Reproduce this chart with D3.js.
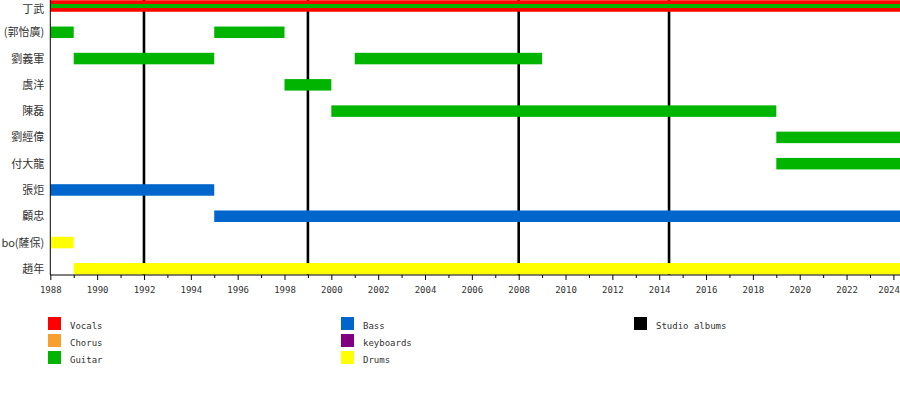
<!DOCTYPE html>
<html><head><meta charset="utf-8">
<script src="https://cdn.jsdelivr.net/npm/d3@7"></script>
<style>body{margin:0;background:#fff}svg{display:block}</style>
</head><body>
<svg id="c" width="900" height="400"></svg>
<script>
const members = ["丁武","(郭怡廣)","劉義軍","虞洋","陳磊","劉經偉","付大龍","張炬","顧忠","bo(薩保)","趙年"];
const roles = ["Vocals","Chorus","Guitar","Bass","keyboards","Drums","Studio albums"];
const roleColors = ["#ff0000","#f7a030","#00b400","#0066cc","#800080","#ffff00","#000000"];
// [member, role, start, end]
const periods = [
  ["丁武","Vocals",1988,2024.4],
  ["(郭怡廣)","Guitar",1988,1989],
  ["(郭怡廣)","Guitar",1995,1998],
  ["劉義軍","Guitar",1989,1995],
  ["劉義軍","Guitar",2001,2009],
  ["虞洋","Guitar",1998,2000],
  ["陳磊","Guitar",2000,2019],
  ["劉經偉","Guitar",2019,2024.4],
  ["付大龍","Guitar",2019,2024.4],
  ["張炬","Bass",1988,1995],
  ["顧忠","Bass",1995,2024.4],
  ["bo(薩保)","Drums",1988,1989],
  ["趙年","Drums",1989,2024.4]
];
// secondary role stripe
const stripes = [["丁武","Guitar",1988,2024.4]];
const albums = [1992, 1999, 2008, 2014.42];
const tickYears = d3.range(1988, 2025, 1);

const svg = d3.select("#c");
const x = d3.scaleLinear().domain([1988, 2024]).range([50.3, 893.4]);
const y = d3.scalePoint().domain(members).range([6, 268.8]);
const color = d3.scaleOrdinal().domain(roles).range(roleColors);
const axisY = 275;
const barH = 11.5;

// album lines
svg.append("g").selectAll("line").data(albums).join("line")
  .attr("x1", d => x(d)).attr("x2", d => x(d))
  .attr("y1", 0).attr("y2", axisY)
  .attr("stroke", "#000").attr("stroke-width", 2.6);

// bars
svg.append("g").selectAll("rect").data(periods).join("rect")
  .attr("x", d => x(d[2])).attr("width", d => x(d[3]) - x(d[2]))
  .attr("y", d => y(d[0]) - barH/2).attr("height", barH)
  .attr("fill", d => color(d[1]));
svg.append("g").selectAll("rect").data(stripes).join("rect")
  .attr("x", d => x(d[2])).attr("width", d => x(d[3]) - x(d[2]))
  .attr("y", d => y(d[0]) - 2).attr("height", 4)
  .attr("fill", d => color(d[1]));

// axes
const gx = svg.append("g").attr("transform", `translate(0,${axisY})`)
  .call(d3.axisBottom(x).tickValues(tickYears)
    .tickFormat(d => d % 2 === 0 ? d : "")
    .tickSize(5).tickPadding(7));
gx.select(".domain").attr("d", `M50.3,0H900`).attr("stroke", "#000");
gx.selectAll(".tick line").attr("y2", d => d % 2 === 0 ? 5 : 3).attr("stroke", "#000");
gx.selectAll(".tick text").attr("font-family", "DejaVu Sans Mono").attr("font-size", 9).attr("fill", "#333");
gx.selectAll(".tick").filter(d => d === 2024).select("text").attr("text-anchor", "end").attr("x", 6);

const gy = svg.append("g").attr("transform", "translate(50.3,0)")
  .call(d3.axisLeft(y).tickSize(0).tickPadding(6));
gy.select(".domain").attr("d", `M0,0V${axisY}`).attr("stroke", "#000");
gy.selectAll(".tick text").attr("font-family", "Noto Sans CJK TC").attr("font-size", 11).attr("fill", "#333");
gy.selectAll(".tick").filter(d => d === "丁武").select("text").attr("dy", "0.6em");

// legend
const legendCols = [48, 341, 634];
const legendRows = [324, 341, 358];
const legendItems = [
  ["Vocals",0,0],["Chorus",0,1],["Guitar",0,2],
  ["Bass",1,0],["keyboards",1,1],["Drums",1,2],
  ["Studio albums",2,0]
];
const lg = svg.append("g").selectAll("g").data(legendItems).join("g")
  .attr("transform", d => `translate(${legendCols[d[1]]},${legendRows[d[2]]})`);
lg.append("rect").attr("x", 0).attr("y", -7).attr("width", 13).attr("height", 13)
  .attr("fill", d => color(d[0]));
lg.append("text").attr("x", 22).attr("y", 1.5).attr("dy", "0.35em")
  .attr("font-family", "DejaVu Sans Mono").attr("font-size", 9).attr("fill", "#333")
  .text(d => d[0]);
</script>
</body></html>
